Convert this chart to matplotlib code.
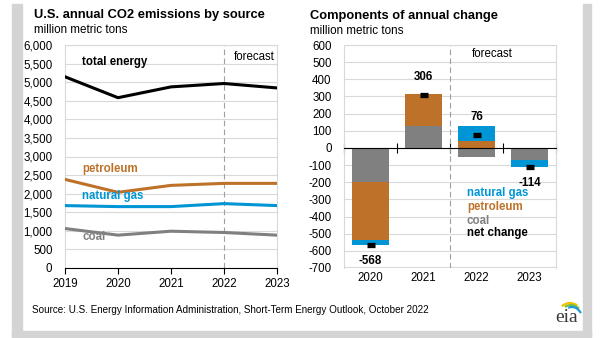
import matplotlib
matplotlib.use("Agg")
import matplotlib.pyplot as plt
from matplotlib.markers import MarkerStyle
from matplotlib.patches import Rectangle, Arc
import matplotlib.transforms as mtransforms

plt.rcParams['font.family'] = ['Liberation Sans', 'DejaVu Sans']

# ---------------- data ----------------
years = [2019, 2020, 2021, 2022, 2023]
total_energy = [5145, 4582, 4873, 4964, 4845]
petroleum = [2384, 2036, 2223, 2277, 2277]
natural_gas = [1679, 1652, 1652, 1732, 1679]
coal = [1062, 884, 990, 955, 884]

chg_years = ['2020', '2021', '2022', '2023']
chg_coal = [-200, 128, -50, -68]
chg_petroleum = [-338, 186, 40, 0]
chg_natgas = [-30, -8, 86, -46]
net_change = [-568, 306, 76, -114]

left_yticks = list(range(0, 6001, 500))
right_yticks = list(range(-700, 601, 100))

C_PET = '#BE7128'
C_GAS = '#0096D6'
C_COAL = '#808080'
C_GRID = '#D9D9D9'

W, H = 600, 338
fig = plt.figure(figsize=(W / 100, H / 100), dpi=100)
fig.patch.set_facecolor('white')

def fr(x0, y0, x1, y1):
    return [x0 / W, 1 - y1 / H, (x1 - x0) / W, (y1 - y0) / H]

# frame strips
for (x0, y0, x1, y1) in [(12, 4, 22, 337), (583, 4, 591, 337), (12, 331, 591, 337)]:
    fig.patches.append(Rectangle((x0 / W, 1 - y1 / H), (x1 - x0) / W, (y1 - y0) / H,
                                 transform=fig.transFigure, color='#D4D4D4', zorder=0))

# ---------------- left chart ----------------
ax1 = fig.add_axes(fr(65, 45, 277, 268))
ax1.plot(years, total_energy, color='black', lw=2.2, zorder=3)
ax1.plot(years, petroleum, color=C_PET, lw=2.2, zorder=3)
ax1.plot(years, natural_gas, color=C_GAS, lw=2.2, zorder=3)
ax1.plot(years, coal, color=C_COAL, lw=2.2, zorder=3)
ax1.set_xlim(2019, 2023)
ax1.set_ylim(0, 6000)
ax1.set_yticks(left_yticks)
ax1.set_yticklabels([f'{v:,}' for v in left_yticks], fontsize=8.3)
ax1.set_xticks(years)
ax1.set_xticklabels([str(y) for y in years], fontsize=8.3)
ax1.yaxis.grid(True, color=C_GRID, lw=0.8)
ax1.set_axisbelow(True)
ax1.tick_params(axis='y', length=0, pad=9)
ax1.tick_params(axis='x', length=4, direction='out', color='black', pad=3)
for s in ['top', 'right', 'left']:
    ax1.spines[s].set_color(C_GRID)
ax1.spines['bottom'].set_color('black')
ax1.axvline(2022, color='#A0A0A0', lw=0.8, ls=(0, (5, 3)), zorder=2)
ax1.text(2019.33, 5543, 'total energy', fontsize=8.3, fontweight='bold', color='black', va='center')
ax1.text(2019.33, 2664, 'petroleum', fontsize=8.3, fontweight='bold', color=C_PET, va='center')
ax1.text(2019.33, 1937, 'natural gas', fontsize=8.3, fontweight='bold', color=C_GAS, va='center')
ax1.text(2019.33, 834, 'coal', fontsize=8.3, fontweight='bold', color=C_COAL, va='center')
ax1.text(2022.57, 5677, 'forecast', fontsize=8.3, color='black', va='center', ha='center')

fig.text(34 / W, 1 - 15 / H, 'U.S. annual CO2 emissions by source', fontsize=9.3,
         fontweight='bold', va='center', ha='left')
fig.text(34 / W, 1 - 30 / H, 'million metric tons', fontsize=8.4, va='center', ha='left')

# ---------------- right chart ----------------
ax2 = fig.add_axes(fr(344, 45, 556, 268))
xs = list(range(len(chg_years)))
bw = 0.68
for i in xs:
    pos, neg = 0, 0
    for val, col in [(chg_coal[i], C_COAL), (chg_petroleum[i], C_PET), (chg_natgas[i], C_GAS)]:
        if val >= 0:
            ax2.bar(i, val, bottom=pos, width=bw, color=col, zorder=3)
            pos += val
        else:
            ax2.bar(i, val, bottom=neg, width=bw, color=col, zorder=3)
            neg += val
ax2.scatter(xs, net_change, marker=MarkerStyle('_', capstyle='round'), s=40,
            linewidths=3.8, color='black', zorder=5)
for i, v in zip(xs, net_change):
    off = 13 if v > 0 else -11
    ax2.annotate(f'{v}', (i, v), xytext=(0, off), textcoords='offset points',
                 ha='center', va='center', fontsize=8.3, fontweight='bold')

ax2.set_xlim(-0.5, 3.5)
ax2.set_ylim(-700, 600)
ax2.set_yticks(right_yticks)
ax2.set_yticklabels([str(v) for v in right_yticks], fontsize=8.3)
ax2.yaxis.grid(True, color=C_GRID, lw=0.8)
ax2.set_axisbelow(True)
ax2.tick_params(axis='y', length=0, pad=9)
for s in ['top', 'right', 'left']:
    ax2.spines[s].set_color(C_GRID)
ax2.spines['bottom'].set_position(('data', 0))
ax2.spines['bottom'].set_color('black')
ax2.spines['bottom'].set_zorder(6)
ax2.set_xticks([x - 0.5 for x in xs] + [xs[-1] + 0.5])
ax2.set_xticklabels([])
ax2.tick_params(axis='x', direction='inout', length=7, color='black')
# bottom frame of box
ax2.axhline(-700, color=C_GRID, lw=1.6, zorder=1)
trans = mtransforms.blended_transform_factory(ax2.transData, ax2.transAxes)
for i, lab in zip(xs, chg_years):
    ax2.text(i, -0.045, lab, transform=trans, ha='center', va='center', fontsize=8.3)
ax2.axvline(1.5, color='#A0A0A0', lw=0.8, ls=(0, (5, 3)), zorder=2)
ax2.text(2.29, 548, 'forecast', fontsize=8.3, ha='center', va='center')

ax2.text(0.58, 0.335, 'natural gas', transform=ax2.transAxes, fontsize=8.3, fontweight='bold', color=C_GAS, va='center')
ax2.text(0.58, 0.275, 'petroleum', transform=ax2.transAxes, fontsize=8.3, fontweight='bold', color=C_PET, va='center')
ax2.text(0.58, 0.213, 'coal', transform=ax2.transAxes, fontsize=8.3, fontweight='bold', color=C_COAL, va='center')
ax2.text(0.58, 0.155, 'net change', transform=ax2.transAxes, fontsize=8.3, fontweight='bold', color='black', va='center')

fig.text(310 / W, 1 - 16 / H, 'Components of annual change', fontsize=9.3,
         fontweight='bold', va='center', ha='left')
fig.text(310 / W, 1 - 31 / H, 'million metric tons', fontsize=8.4, va='center', ha='left')

# ---------------- footer ----------------
fig.text(32 / W, 1 - 310 / H,
         'Source: U.S. Energy Information Administration, Short-Term Energy Outlook, October 2022',
         fontsize=7.1, va='center', ha='left')

lax = fig.add_axes(fr(552, 294, 582, 326))
lax.set_xlim(0, 30)
lax.set_ylim(0, 32)
lax.axis('off')
lax.text(15, 9, 'eia', fontsize=14, family='Liberation Serif', color='#3A3A3A',
         ha='center', va='center')
lax.add_patch(Arc((18, 8), 26, 30, theta1=60, theta2=125, color='#F2C200', lw=1.6))
lax.add_patch(Arc((19, 6), 24, 30, theta1=55, theta2=115, color='#7DBB42', lw=1.6))
lax.add_patch(Arc((20, 4), 22, 30, theta1=45, theta2=105, color='#1E9AD6', lw=1.6))

fig.savefig('out.png', dpi=100)
